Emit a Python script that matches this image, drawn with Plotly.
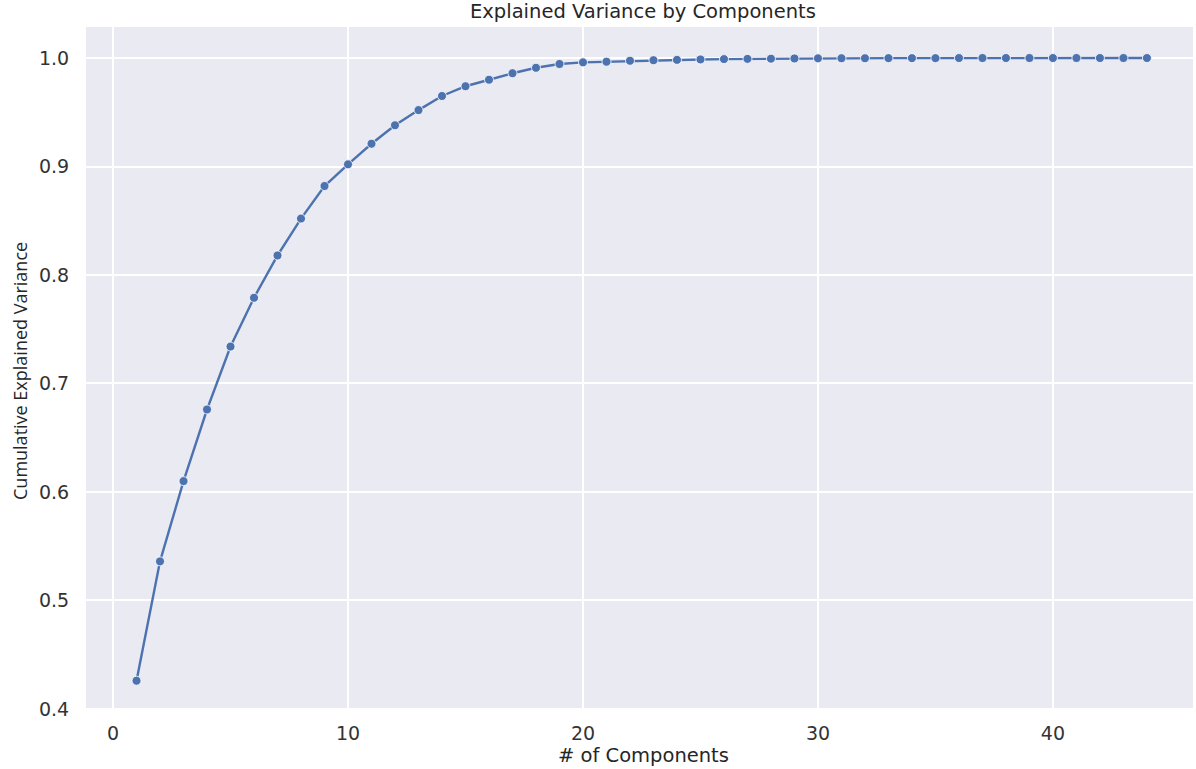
import plotly.graph_objects as go

components = list(range(1, 45))
cumulative_variance = [
    0.426, 0.536, 0.610, 0.676, 0.734, 0.779, 0.818, 0.852, 0.882, 0.902,
    0.921, 0.938, 0.952, 0.965, 0.974, 0.980, 0.986, 0.991, 0.9945, 0.996,
    0.9966, 0.9975, 0.998, 0.9983, 0.9987, 0.999, 0.9992, 0.9994, 0.9996, 0.9997,
    0.9998, 0.9998, 0.9999, 0.9999, 0.9999, 1.0, 1.0, 1.0, 1.0, 1.0,
    1.0, 1.0, 1.0, 1.0,
]
x_ticks = [0, 10, 20, 30, 40]
y_ticks = [0.4, 0.5, 0.6, 0.7, 0.8, 0.9, 1.0]

W, H = 1196, 769
ML, MR, MT, MB = 86, 3, 27, 59
PW = W - ML - MR
PH = H - MT - MB

fig = go.Figure()
fig.add_trace(go.Scatter(
    x=components, y=cumulative_variance, mode="lines+markers",
    line=dict(color="#4c72b0", width=2.4),
    marker=dict(size=9, color="#4c72b0", line=dict(color="white", width=0.8)),
    showlegend=False,
))

font = "DejaVu Sans"
tick_font = dict(family=font, size=19, color="#333333")
fig.update_layout(
    width=W, height=H,
    margin=dict(l=ML, r=MR, t=MT, b=MB, pad=0),
    paper_bgcolor="white", plot_bgcolor="#eaeaf2",
    font=dict(family=font, size=19, color="#262626"),
    xaxis=dict(range=[-1.15, 45.96], tickvals=x_ticks, showgrid=True,
               gridcolor="white", gridwidth=1.6, zeroline=False, showline=False,
               ticks="outside", ticklen=6, tickcolor="rgba(0,0,0,0)",
               tickfont=tick_font),
    yaxis=dict(range=[0.399, 1.0286], tickvals=y_ticks, tickformat=".1f",
               showgrid=True, gridcolor="white", gridwidth=1.6, zeroline=False,
               showline=False, ticks="outside", ticklen=12,
               tickcolor="rgba(0,0,0,0)", tickfont=tick_font),
)

fig.add_annotation(text="Explained Variance by Components", xref="paper", yref="paper",
                   x=(643 - ML) / PW, y=1 + (MT - 12) / PH, xanchor="center", yanchor="middle",
                   showarrow=False, font=dict(family=font, size=19.5, color="#262626"))
fig.add_annotation(text="# of Components", xref="paper", yref="paper",
                   x=(643 - ML) / PW, y=-(755 - MT - PH) / PH, xanchor="center", yanchor="middle",
                   showarrow=False, font=dict(family=font, size=19.5, color="#262626"))
fig.add_annotation(text="Cumulative Explained Variance", xref="paper", yref="paper",
                   x=(20 - ML) / PW, y=1 - (371 - MT) / PH, xanchor="center", yanchor="middle",
                   textangle=-90, showarrow=False,
                   font=dict(family="Open Sans", size=18, color="#262626"))

fig.write_html("out.html", config={"displayModeBar": False},
               post_script="document.body.style.margin='0';")
